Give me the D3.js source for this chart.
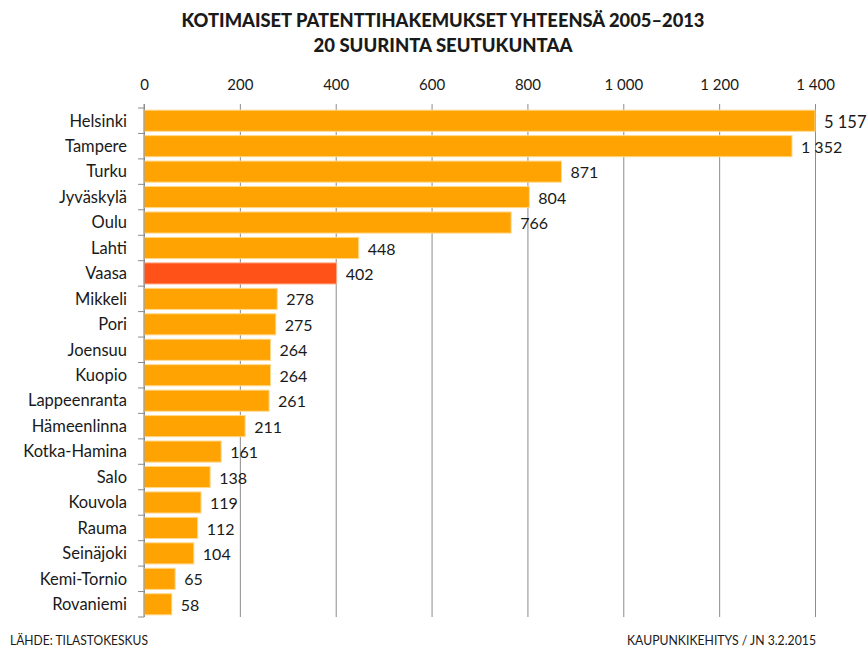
<!DOCTYPE html>
<html>
<head>
<meta charset="utf-8">
<script src="https://cdn.jsdelivr.net/npm/d3@7"></script>
<style>
    body { margin: 0; background: #fff; }
    text { font-family: Lato, "Open Sans", sans-serif; fill: #1a1a1a; }
</style>
</head>
<body>
<div id="chart_container"></div>
<script>
// chart data
const regions = ["Helsinki", "Tampere", "Turku", "Jyväskylä", "Oulu", "Lahti", "Vaasa", "Mikkeli", "Pori",
    "Joensuu", "Kuopio", "Lappeenranta", "Hämeenlinna", "Kotka-Hamina", "Salo", "Kouvola", "Rauma",
    "Seinäjoki", "Kemi-Tornio", "Rovaniemi"];
const patents = [5157, 1352, 871, 804, 766, 448, 402, 278, 275, 264, 264, 261, 211, 161, 138, 119, 112, 104, 65, 58];
const highlighted = ["Vaasa"];
const xTicks = [0, 200, 400, 600, 800, 1000, 1200, 1400];
const titleLines = ["KOTIMAISET PATENTTIHAKEMUKSET YHTEENSÄ 2005–2013", "20 SUURINTA SEUTUKUNTAA"];
const sourceText = "LÄHDE: TILASTOKESKUS";
const creditText = "KAUPUNKIKEHITYS / JN 3.2.2015";

const rows = regions.map((r, i) => ({region: r, value: patents[i]}));

const width = 868, height = 648;
const margin = {top: 108, left: 144, right: 53, bottom: 31};

const fi = d3.formatLocale({decimal: ",", thousands: "\u00a0", grouping: [3], currency: ["", " €"]});
const fmt = fi.format(",d");

const svg = d3.select("#chart_container")
    .append("svg")
    .attr("width", width)
    .attr("height", height);

svg.append("rect").attr("width", width).attr("height", height).attr("fill", "#fff");

// scales
const x = d3.scaleLinear()
    .domain([0, 1400])
    .range([margin.left, width - margin.right])
    .clamp(true);

const y = d3.scaleBand()
    .domain(regions)
    .range([margin.top, height - margin.bottom])
    .paddingInner(0.17)
    .paddingOuter(0.085);

// title
svg.selectAll(".title")
    .data(titleLines)
    .enter()
    .append("text")
    .attr("class", "title")
    .attr("x", 443)
    .attr("y", (d, i) => 27 + i * 25)
    .attr("text-anchor", "middle")
    .attr("font-size", 18.5)
    .attr("font-weight", "900")
    .attr("textLength", (d, i) => i === 0 ? 523 : 259)
    .attr("lengthAdjust", "spacingAndGlyphs")
    .text(d => d);

// top axis with gridlines
const xAxis = svg.append("g")
    .attr("transform", `translate(0,${margin.top - 4})`)
    .call(d3.axisTop(x)
        .tickValues(xTicks)
        .tickFormat(fmt)
        .tickSize(-(height - margin.bottom - margin.top + 4))
        .tickPadding(14));
xAxis.select(".domain").remove();
xAxis.selectAll(".tick line").attr("stroke", "#8c8c8c").attr("stroke-width", 1);
xAxis.selectAll(".tick text")
    .attr("font-size", 15)
    .attr("font-family", "Lato, sans-serif")
    .attr("fill", "#1a1a1a");

// bars
svg.append("g")
    .selectAll("rect")
    .data(rows)
    .enter()
    .append("rect")
    .attr("x", x(0))
    .attr("y", d => y(d.region))
    .attr("width", d => x(d.value) - x(0))
    .attr("height", y.bandwidth())
    .attr("fill", d => highlighted.includes(d.region) ? "#ff5218" : "#ffa302")
    .attr("stroke", d => highlighted.includes(d.region) ? "#ffb08f" : "#ffd98c")
    .attr("stroke-width", 1);

// category axis (left) with ticks between bands
const yTop = margin.top, yBottom = height - margin.bottom;
const step = (yBottom - yTop) / regions.length;
const yAxisG = svg.append("g");
yAxisG.append("line")
    .attr("x1", x(0)).attr("x2", x(0))
    .attr("y1", yTop - 4).attr("y2", yBottom)
    .attr("stroke", "#8c8c8c");
yAxisG.selectAll(".ytick")
    .data(d3.range(regions.length + 1))
    .enter()
    .append("line")
    .attr("x1", x(0) - 6).attr("x2", x(0))
    .attr("y1", i => yTop + i * step)
    .attr("y2", i => yTop + i * step)
    .attr("stroke", "#8c8c8c");

yAxisG.selectAll(".ylabel")
    .data(rows)
    .enter()
    .append("text")
    .attr("x", 127)
    .attr("y", d => y(d.region) + y.bandwidth() / 2)
    .attr("dy", "0.35em")
    .attr("text-anchor", "end")
    .attr("font-size", 16.5)
    .text(d => d.region);

// value labels
svg.append("g")
    .selectAll("text")
    .data(rows)
    .enter()
    .append("text")
    .attr("x", d => x(d.value) + 9)
    .attr("y", d => y(d.region) + y.bandwidth() / 2 + 1)
    .attr("dy", "0.35em")
    .attr("font-size", d => d.value > 1400 ? 16.5 : 16)
    .text(d => fmt(d.value));

// footer
svg.append("text")
    .attr("x", 10)
    .attr("y", 645)
    .attr("font-size", 12.5)
    .attr("textLength", 138)
    .attr("lengthAdjust", "spacingAndGlyphs")
    .text(sourceText);

svg.append("text")
    .attr("x", 627)
    .attr("y", 645)
    .attr("font-size", 12.5)
    .attr("textLength", 189)
    .attr("lengthAdjust", "spacingAndGlyphs")
    .text(creditText);
</script>
</body>
</html>
